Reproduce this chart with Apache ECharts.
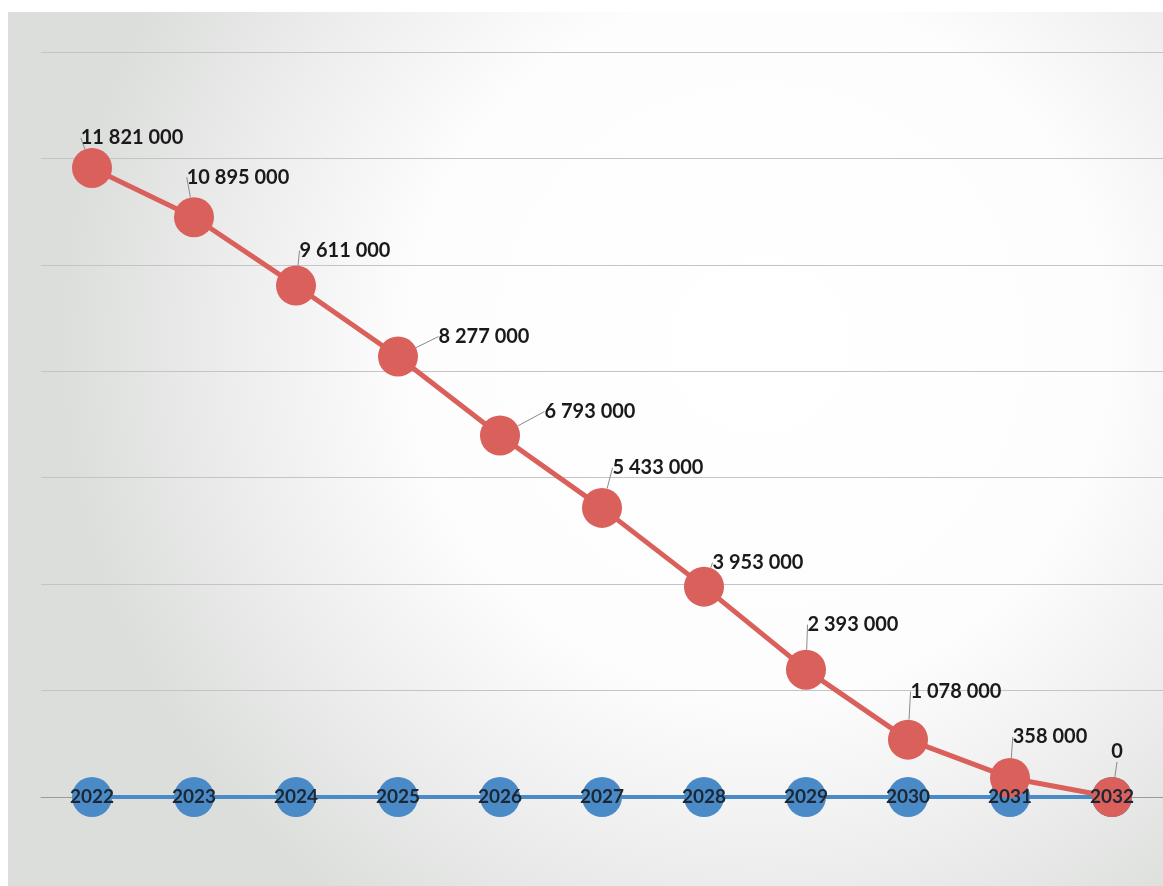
<!DOCTYPE html>
<html>
<head>
<meta charset="utf-8">
<script src="https://cdn.jsdelivr.net/npm/echarts@6/dist/echarts.min.js"></script>
<style>
  html, body { margin: 0; padding: 0; background: #fff; }
  #chart { width: 1163px; height: 886px; }
</style>
</head>
<body>
<div id="chart"></div>
<script>
  // years along the bottom
  var years = ['2022', '2023', '2024', '2025', '2026', '2027', '2028', '2029', '2030', '2031', '2032'];
  // red series: remaining amount per year
  var remaining = [11821000, 10895000, 9611000, 8277000, 6793000, 5433000, 3953000, 2393000, 1078000, 358000, 0];
  // blue series sits on the zero line
  var baseline = [0, 0, 0, 0, 0, 0, 0, 0, 0, 0, 0];

  // where each red label centre sits relative to its point (layout only)
  var labelShift = [[40, -32], [44, -42], [49, -37], [86, -22], [90, -26], [56, -42],
                    [54, -26], [47, -47], [48, -50], [40, -43], [5, -47]];

  function spaced(v) {
    return String(v).replace(/\B(?=(\d{3})+(?!\d))/g, ' ');
  }

  var chart = echarts.init(document.getElementById('chart'));
  var option = {
    backgroundColor: '#ffffff',
    animation: false,
    graphic: [{
      type: 'rect',
      z: -10,
      silent: true,
      shape: { x: 8, y: 12, width: 1155, height: 874 },
      style: {
        fill: {
          type: 'radial', x: 0.65, y: 0.38, r: 0.8,
          colorStops: [
            { offset: 0, color: '#ffffff' },
            { offset: 0.5, color: '#fdfdfd' },
            { offset: 1, color: '#dcdedc' }
          ]
        }
      }
    }],
    grid: { left: 41, right: 0, top: 52, bottom: 89 },
    xAxis: {
      type: 'category',
      data: years,
      boundaryGap: true,
      axisLine: { show: true, lineStyle: { color: '#9a9a9a', width: 1 } },
      axisTick: { show: false },
      axisLabel: { show: false }
    },
    yAxis: {
      type: 'value',
      min: 0,
      max: 14000000,
      interval: 2000000,
      axisLine: { show: false },
      axisTick: { show: false },
      axisLabel: { show: false },
      splitLine: { lineStyle: { color: '#c4c4c4', width: 1 } }
    },
    series: [
      {
        name: 'base',
        type: 'line',
        data: baseline,
        z: 2,
        symbol: 'circle',
        symbolSize: 40,
        lineStyle: { color: '#4a8ac6', width: 4 },
        itemStyle: { color: '#4a8ac6' }
      },
      {
        name: 'remaining',
        type: 'line',
        data: remaining,
        z: 3,
        symbol: 'circle',
        symbolSize: 40,
        lineStyle: { color: '#d9605b', width: 5 },
        itemStyle: { color: '#d9605b' },
        label: {
          show: true,
          position: 'top',
          distance: 5,
          formatter: function (p) { return spaced(p.value); },
          fontFamily: 'Lato',
          fontWeight: 'bold',
          fontSize: 20,
          color: '#1a1a1a'
        },
        labelLine: { show: true, lineStyle: { color: '#8a8a8a', width: 1 } },
        labelLayout: function (params) {
          var s = labelShift[params.dataIndex];
          return { dx: s[0], dy: s[1] + 37 };
        }
      },
      {
        // year tags drawn above both series
        name: 'years',
        type: 'line',
        data: baseline,
        z: 5,
        symbol: 'circle',
        symbolSize: 1,
        silent: true,
        lineStyle: { opacity: 0 },
        itemStyle: { color: 'rgba(0,0,0,0)' },
        label: {
          show: true,
          position: 'inside',
          formatter: function (p) { return years[p.dataIndex]; },
          fontFamily: 'Lato',
          fontWeight: 'bold',
          fontSize: 19,
          color: '#1c2733'
        }
      }
    ]
  };
  chart.setOption(option);
</script>
</body>
</html>
